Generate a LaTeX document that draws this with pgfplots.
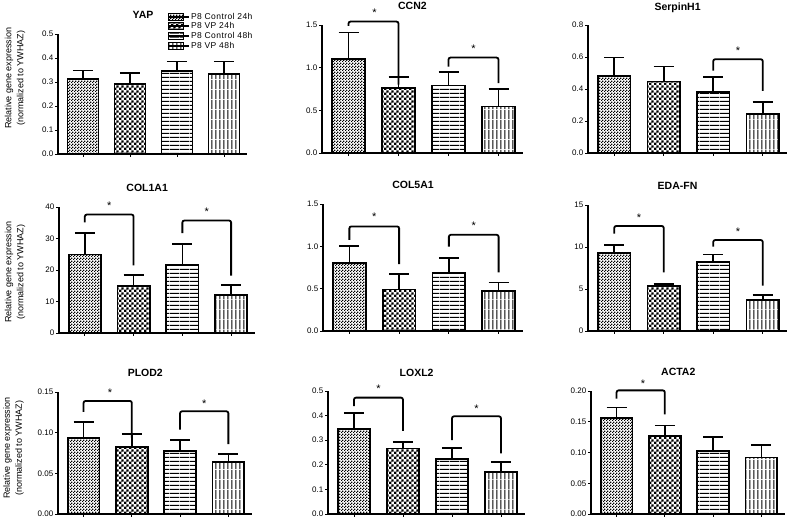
\documentclass[border=0pt]{standalone}
\usepackage{fontspec}
\setmainfont{Liberation Sans}
\newfontfamily\legfont{Liberation Sans}[LetterSpace=5]
\usepackage{pgfplots}
\pgfplotsset{compat=1.18}
\usetikzlibrary{patterns}

\pgfdeclarepatternformonly{checkfine}{\pgfpointorigin}{\pgfqpoint{2.6pt}{2.6pt}}{\pgfqpoint{2.6pt}{2.6pt}}{%
  \pgfpathrectangle{\pgfpointorigin}{\pgfqpoint{1.3pt}{1.3pt}}%
  \pgfpathrectangle{\pgfqpoint{1.3pt}{1.3pt}}{\pgfqpoint{1.3pt}{1.3pt}}%
  \pgfusepath{fill}}
\pgfdeclarepatternformonly{checkbig}{\pgfpointorigin}{\pgfqpoint{5.2pt}{5.2pt}}{\pgfqpoint{5.2pt}{5.2pt}}{%
  \pgfpathrectangle{\pgfpointorigin}{\pgfqpoint{2.6pt}{2.6pt}}%
  \pgfpathrectangle{\pgfqpoint{2.6pt}{2.6pt}}{\pgfqpoint{2.6pt}{2.6pt}}%
  \pgfusepath{fill}}
\pgfdeclarepatternformonly{hlines}{\pgfpointorigin}{\pgfqpoint{10pt}{4pt}}{\pgfqpoint{10pt}{4pt}}{%
  \pgfsetlinewidth{1pt}%
  \pgfpathmoveto{\pgfqpoint{0pt}{2pt}}\pgfpathlineto{\pgfqpoint{10pt}{2pt}}%
  \pgfusepath{stroke}}
\pgfdeclarepatternformonly{vlines}{\pgfpointorigin}{\pgfqpoint{3.9pt}{10pt}}{\pgfqpoint{3.9pt}{10pt}}{%
  \pgfsetlinewidth{1pt}%
  \pgfpathmoveto{\pgfqpoint{1.95pt}{0pt}}\pgfpathlineto{\pgfqpoint{1.95pt}{10pt}}%
  \pgfusepath{stroke}}

\pgfplotsset{
  every axis title shift=0pt,
  panel/.style={
    scale only axis,
    ybar, bar shift=0pt, bar width=0.66,
    xmin=-0.53, xmax=3.49, ymin=0,
    axis lines=left,
    axis line style={-, line width=1.1pt, black},
    xtick={0,1,2,3}, xticklabels={},
    tick align=outside, major tick length=3pt,
    tick style={line width=0.8pt, black},
    yticklabel style={font=\fontsize{8}{9}\selectfont, inner sep=1.5pt},
    /pgf/number format/assume math mode=true,
    scaled y ticks=false,
    title style={font=\bfseries\fontsize{10.5}{11}\selectfont, at={(0.45,1)}, anchor=base, yshift=15pt},
    clip=false,
  },
  prec0/.style={/pgf/number format/fixed, /pgf/number format/precision=0},
  prec1/.style={/pgf/number format/fixed, /pgf/number format/fixed zerofill, /pgf/number format/precision=1},
  prec2/.style={/pgf/number format/fixed, /pgf/number format/fixed zerofill, /pgf/number format/precision=2},
  ylab/.style={ylabel={Relative gene expression\\(normalized to YWHAZ)},
    ylabel style={at={(axis description cs:#1)}, anchor=center, align=center, font=\fontsize{9}{12}\selectfont}},
  b1/.style={draw=black, line width=1.8pt, pattern=checkfine},
  b2/.style={draw=black, line width=1.8pt, pattern=checkbig},
  b3/.style={draw=black, line width=1.8pt, pattern=hlines},
  b4/.style={draw=black, line width=1.8pt, pattern=vlines},
  err/.style={error bars/y dir=plus, error bars/y explicit,
    error bars/error bar style={line width=1.6pt, black},
    error bars/error mark options={rotate=90, mark size=10pt, line width=1.6pt, black}},
  brk/.style={sharp plot, forget plot, black, line width=1.8pt, rounded corners=2pt, mark=none, fill=none},
}
\newcommand{\sig}[2]{\node[font=\fontsize{11}{11}\selectfont] at (axis cs:#1,#2) {*};}

\begin{document}
\begin{tikzpicture}
\useasboundingbox (0,0) rectangle (788pt,519pt);

% ---------- YAP
\begin{axis}[panel, at={(58pt,365pt)}, anchor=south west, width=189pt, height=120pt,
  ymax=0.5, ytick={0,0.1,0.2,0.3,0.4,0.5}, prec1, title={YAP}, ylab={-0.2275,0.633},
  legend image code/.code={\draw[#1, line width=1.2pt] (0pt,-3.5pt) rectangle (15pt,3.5pt);
    \path (0pt,0pt) -- (21pt,0pt);},
  legend style={at={(axis description cs:0.577,1.186)}, anchor=north west, draw=none, fill=none,
    inner sep=0pt, row sep=0pt, font=\legfont\fontsize{8.5}{9}\selectfont,
    nodes={inner sep=1pt}},
  legend cell align=left]
\addplot[b1, err] coordinates {(0,0.312) +- (0,0.036)};
\addplot[b2, err] coordinates {(1,0.291) +- (0,0.046)};
\addplot[b3, err] coordinates {(2,0.347) +- (0,0.039)};
\addplot[b4, err] coordinates {(3,0.334) +- (0,0.052)};
\legend{P8 Control 24h, P8 VP 24h, P8 Control 48h, P8 VP 48h}
\end{axis}

% ---------- CCN2
\begin{axis}[panel, at={(322pt,366pt)}, anchor=south west, width=201pt, height=128pt,
  ymax=1.5, ytick={0,0.5,1,1.5}, prec1, title={CCN2}]
\addplot[b1, err] coordinates {(0,1.099) +- (0,0.311)};
\addplot[b2, err] coordinates {(1,0.760) +- (0,0.128)};
\addplot[b3, err] coordinates {(2,0.791) +- (0,0.156)};
\addplot[b4, err] coordinates {(3,0.545) +- (0,0.203)};
\addplot[brk] coordinates {(0,1.49) (0,1.54) (1,1.54) (1,0.80)};
\addplot[brk] coordinates {(2,1.013) (2,1.118) (3,1.118) (3,0.818)};
\sig{0.52}{1.64}
\sig{2.5}{1.22}
\end{axis}

% ---------- SerpinH1
\begin{axis}[panel, at={(588pt,366pt)}, anchor=south west, width=199pt, height=128pt,
  ymax=0.8, ytick={0,0.2,0.4,0.6,0.8}, prec1, title={SerpinH1}]
\addplot[b1, err] coordinates {(0,0.482) +- (0,0.116)};
\addplot[b2, err] coordinates {(1,0.447) +- (0,0.093)};
\addplot[b3, err] coordinates {(2,0.380) +- (0,0.094)};
\addplot[b4, err] coordinates {(3,0.243) +- (0,0.075)};
\addplot[brk] coordinates {(2,0.515) (2,0.586) (3,0.586) (3,0.389)};
\sig{2.5}{0.64}
\end{axis}

% ---------- COL1A1
\begin{axis}[panel, at={(59pt,186pt)}, anchor=south west, width=196pt, height=126pt,
  ymax=40, ytick={0,10,20,30,40}, prec0, title={COL1A1}, ylab={-0.2245,0.484}]
\addplot[b1, err] coordinates {(0,24.9) +- (0,6.8)};
\addplot[b2, err] coordinates {(1,15.0) +- (0,3.5)};
\addplot[b3, err] coordinates {(2,21.5) +- (0,6.8)};
\addplot[b4, err] coordinates {(3,12.0) +- (0,3.3)};
\addplot[brk] coordinates {(0,35.1) (0,37.6) (1,37.6) (1,21.5)};
\addplot[brk] coordinates {(2,31.7) (2,35.7) (3,35.7) (3,18.2)};
\sig{0.5}{40.5}
\sig{2.5}{38.5}
\end{axis}

% ---------- COL5A1
\begin{axis}[panel, at={(323pt,188pt)}, anchor=south west, width=200pt, height=127pt,
  ymax=1.5, ytick={0,0.5,1,1.5}, prec1, title={COL5A1}]
\addplot[b1, err] coordinates {(0,0.800) +- (0,0.205)};
\addplot[b2, err] coordinates {(1,0.490) +- (0,0.183)};
\addplot[b3, err] coordinates {(2,0.681) +- (0,0.178)};
\addplot[b4, err] coordinates {(3,0.471) +- (0,0.103)};
\addplot[brk] coordinates {(0,1.077) (0,1.235) (1,1.235) (1,0.79)};
\addplot[brk] coordinates {(2,0.997) (2,1.136) (3,1.136) (3,0.693)};
\sig{0.5}{1.35}
\sig{2.5}{1.24}
\end{axis}

% ---------- EDA-FN
\begin{axis}[panel, at={(588pt,188pt)}, anchor=south west, width=199pt, height=126pt,
  ymax=15, ytick={0,5,10,15}, prec0, title={EDA-FN}]
\addplot[b1, err] coordinates {(0,9.25) +- (0,0.99)};
\addplot[b2, err] coordinates {(1,5.36) +- (0,0.27)};
\addplot[b3, err] coordinates {(2,8.25) +- (0,0.88)};
\addplot[b4, err] coordinates {(3,3.69) +- (0,0.60)};
\addplot[brk] coordinates {(0,11.6) (0,12.5) (1,12.5) (1,6.98)};
\addplot[brk] coordinates {(2,10.04) (2,10.83) (3,10.83) (3,5.40)};
\sig{0.5}{13.5}
\sig{2.5}{11.8}
\end{axis}

% ---------- PLOD2
\begin{axis}[panel, at={(58pt,5pt)}, anchor=south west, width=194pt, height=122pt,
  ymax=0.15, ytick={0,0.05,0.1,0.15}, prec2, title={PLOD2}, ylab={-0.229,0.54}]
\addplot[b1, err] coordinates {(0,0.0936) +- (0,0.0196)};
\addplot[b2, err] coordinates {(1,0.0826) +- (0,0.0155)};
\addplot[b3, err] coordinates {(2,0.0777) +- (0,0.0130)};
\addplot[b4, err] coordinates {(3,0.0642) +- (0,0.0094)};
\addplot[brk] coordinates {(0,0.1255) (0,0.139) (1,0.139) (1,0.094)};
\addplot[brk] coordinates {(2,0.1038) (2,0.1263) (3,0.1263) (3,0.0858)};
\sig{0.55}{0.149}
\sig{2.5}{0.135}
\end{axis}

% ---------- LOXL2
\begin{axis}[panel, at={(328pt,5pt)}, anchor=south west, width=197pt, height=123pt,
  ymax=0.5, ytick={0,0.1,0.2,0.3,0.4,0.5}, prec1, title={LOXL2}]
\addplot[b1, err] coordinates {(0,0.347) +- (0,0.064)};
\addplot[b2, err] coordinates {(1,0.266) +- (0,0.027)};
\addplot[b3, err] coordinates {(2,0.222) +- (0,0.047)};
\addplot[b4, err] coordinates {(3,0.172) +- (0,0.039)};
\addplot[brk] coordinates {(0,0.439) (0,0.473) (1,0.473) (1,0.338)};
\addplot[brk] coordinates {(2,0.30) (2,0.397) (3,0.397) (3,0.246)};
\sig{0.5}{0.508}
\sig{2.5}{0.43}
\end{axis}

% ---------- ACTA2
\begin{axis}[panel, at={(591pt,5pt)}, anchor=south west, width=194pt, height=123pt,
  ymax=0.2, ytick={0,0.05,0.1,0.15,0.2}, prec2, title={ACTA2}]
\addplot[b1, err] coordinates {(0,0.156) +- (0,0.017)};
\addplot[b2, err] coordinates {(1,0.127) +- (0,0.017)};
\addplot[b3, err] coordinates {(2,0.103) +- (0,0.022)};
\addplot[b4, err] coordinates {(3,0.092) +- (0,0.020)};
\addplot[brk] coordinates {(0,0.1876) (0,0.201) (1,0.201) (1,0.162)};
\sig{0.55}{0.212}
\end{axis}

\end{tikzpicture}
\end{document}
